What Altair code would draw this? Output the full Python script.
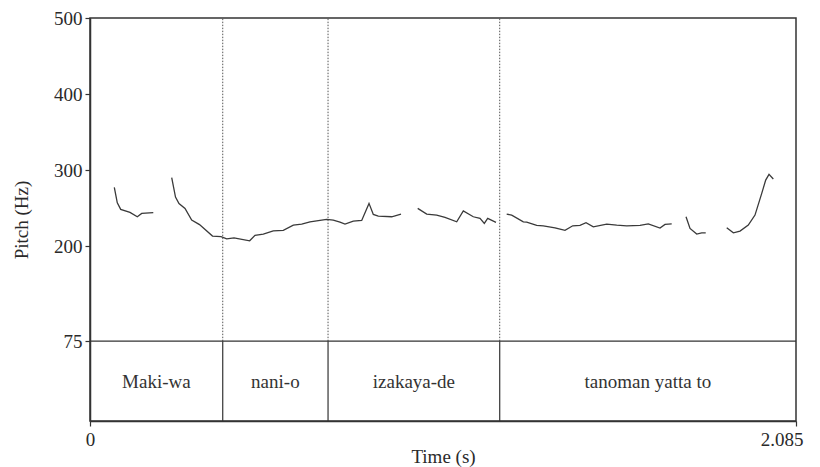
import altair as alt
import pandas as pd

# Pitch contour segments (time in s, pitch in Hz)
seg1_t = [0.0718, 0.0806, 0.0907, 0.1181, 0.1397, 0.1527, 0.1869]
seg1_f = [277.2, 257.0, 248.3, 244.4, 238.6, 243.0, 244.1]

seg2_t = [0.2413, 0.2525, 0.2628, 0.2806, 0.3003, 0.3234, 0.3618, 0.3869, 0.4037, 0.4253,
          0.4716, 0.4873, 0.5118, 0.5413, 0.5709, 0.6004, 0.6252, 0.6497, 0.6990, 0.7185,
          0.7383, 0.7531, 0.7776, 0.8024, 0.8240, 0.8367, 0.8514, 0.8910, 0.9185]
seg2_f = [290.1, 264.5, 255.9, 249.6, 234.2, 228.3, 213.2, 212.5, 209.6, 210.9,
          207.0, 214.1, 215.8, 220.1, 220.7, 227.6, 228.9, 232.0, 235.1, 234.2,
          231.6, 228.9, 232.9, 233.8, 256.2, 241.7, 239.5, 238.6, 242.1]

seg3_t = [0.9678, 0.9944, 1.0239, 1.0484, 1.0830, 1.1025, 1.1320, 1.1518, 1.1645, 1.1745, 1.1990]
seg3_f = [249.6, 242.1, 240.8, 237.8, 232.0, 246.4, 238.6, 236.4, 229.9, 236.4, 231.2]

seg4_t = [1.2306, 1.2454, 1.2797, 1.2897, 1.3192, 1.3387, 1.3733, 1.4028, 1.4256, 1.4471,
          1.4649, 1.4864, 1.5260, 1.5555, 1.5851, 1.6243, 1.6488, 1.6834, 1.6981, 1.7179]
seg4_f = [242.1, 240.8, 232.0, 231.6, 227.2, 226.7, 224.1, 220.7, 226.7, 227.2,
          230.7, 225.4, 228.9, 227.6, 226.7, 227.2, 229.3, 223.7, 228.6, 229.3]

seg5_t = [1.7602, 1.7720, 1.7918, 1.8066, 1.8184]
seg5_f = [238.6, 223.3, 215.8, 217.5, 217.5]

seg6_t = [1.8804, 1.9000, 1.9197, 1.9441, 1.9639, 1.9838, 1.9955, 2.0053, 2.0180]
seg6_f = [224.1, 217.5, 219.7, 227.6, 240.8, 269.3, 286.8, 294.3, 288.2]

# Text tier
boundaries = [0.392, 0.703, 1.210]
words = ["Maki-wa", "nani-o", "izakaya-de", "tanoman yatta to"]
t_start, t_end = 0.0, 2.085
f_min, f_top, f_max = -30, 75, 500
y_ticks = [75, 200, 300, 400, 500]

FONT = "Liberation Serif"
INK = "#333333"

rows = []
for i, (ts, fs) in enumerate([(seg1_t, seg1_f), (seg2_t, seg2_f), (seg3_t, seg3_f),
                               (seg4_t, seg4_f), (seg5_t, seg5_f), (seg6_t, seg6_f)]):
    for t, f in zip(ts, fs):
        rows.append({"t": t, "f": f, "seg": i})
pitch = pd.DataFrame(rows)

edges = [t_start] + boundaries + [t_end]
tier = pd.DataFrame({"word": words,
                     "mid": [(edges[i] + edges[i + 1]) / 2 for i in range(len(words))],
                     "y": [21.5] * len(words)})
bnd = pd.DataFrame({"t": boundaries, "lo": [f_min] * 3, "mid": [f_top] * 3, "hi": [f_max] * 3})
hline = pd.DataFrame({"y": [f_top], "x0": [t_start], "x1": [t_end]})

xscale = alt.Scale(domain=[t_start, t_end], nice=False, zero=False)
yscale = alt.Scale(domain=[f_min, f_max], nice=False, zero=False)

xaxis = alt.Axis(
    values=[t_start, t_end], format=".3~f", title="Time (s)",
    tickSize=5, labelPadding=4, grid=False,
    labelAlign={"condition": {"test": "datum.value > 2", "value": "right"}, "value": "center"},
    labelOffset={"condition": {"test": "datum.value > 2", "value": 7}, "value": 0},
    titleY=41, titleBaseline="alphabetic",
)
yaxis = alt.Axis(values=y_ticks, title="Pitch (Hz)", tickSize=5, labelPadding=3,
                 titlePadding=22, grid=False)

line = alt.Chart(pitch).mark_line(color="#3a3a3a", strokeWidth=1.3).encode(
    x=alt.X("t:Q", scale=xscale, axis=xaxis),
    y=alt.Y("f:Q", scale=yscale, axis=yaxis),
    detail="seg:N",
)

dotted = alt.Chart(bnd).mark_rule(color="#555555", strokeWidth=1, strokeDash=[1.5, 1.5]).encode(
    x=alt.X("t:Q", scale=xscale), y=alt.Y("mid:Q", scale=yscale), y2="hi:Q")

solid = alt.Chart(bnd).mark_rule(color=INK, strokeWidth=1.2).encode(
    x=alt.X("t:Q", scale=xscale), y=alt.Y("lo:Q", scale=yscale), y2="mid:Q")

hrule = alt.Chart(hline).mark_rule(color=INK, strokeWidth=1.2).encode(
    x=alt.X("x0:Q", scale=xscale), x2="x1:Q", y=alt.Y("y:Q", scale=yscale))

labels = alt.Chart(tier).mark_text(font=FONT, fontSize=19, color="#333333").encode(
    x=alt.X("mid:Q", scale=xscale), y=alt.Y("y:Q", scale=yscale), text="word:N")

chart = alt.layer(line, dotted, solid, hrule, labels).properties(
    width=706, height=403,
    autosize=alt.AutoSizeParams(type="none"),
    padding={"left": 82, "top": 10, "right": 16, "bottom": 48},
).configure_view(stroke=INK, strokeWidth=1.5).configure_axis(
    labelFont=FONT, titleFont=FONT, labelFontSize=19, titleFontSize=19,
    titleFontWeight="normal", labelColor="#2a2a2a", titleColor="#2a2a2a",
    domainColor=INK, domainWidth=1.5, tickColor=INK, tickWidth=1.2,
)

chart.save("out.html", embed_options={"renderer": "svg", "actions": False})
